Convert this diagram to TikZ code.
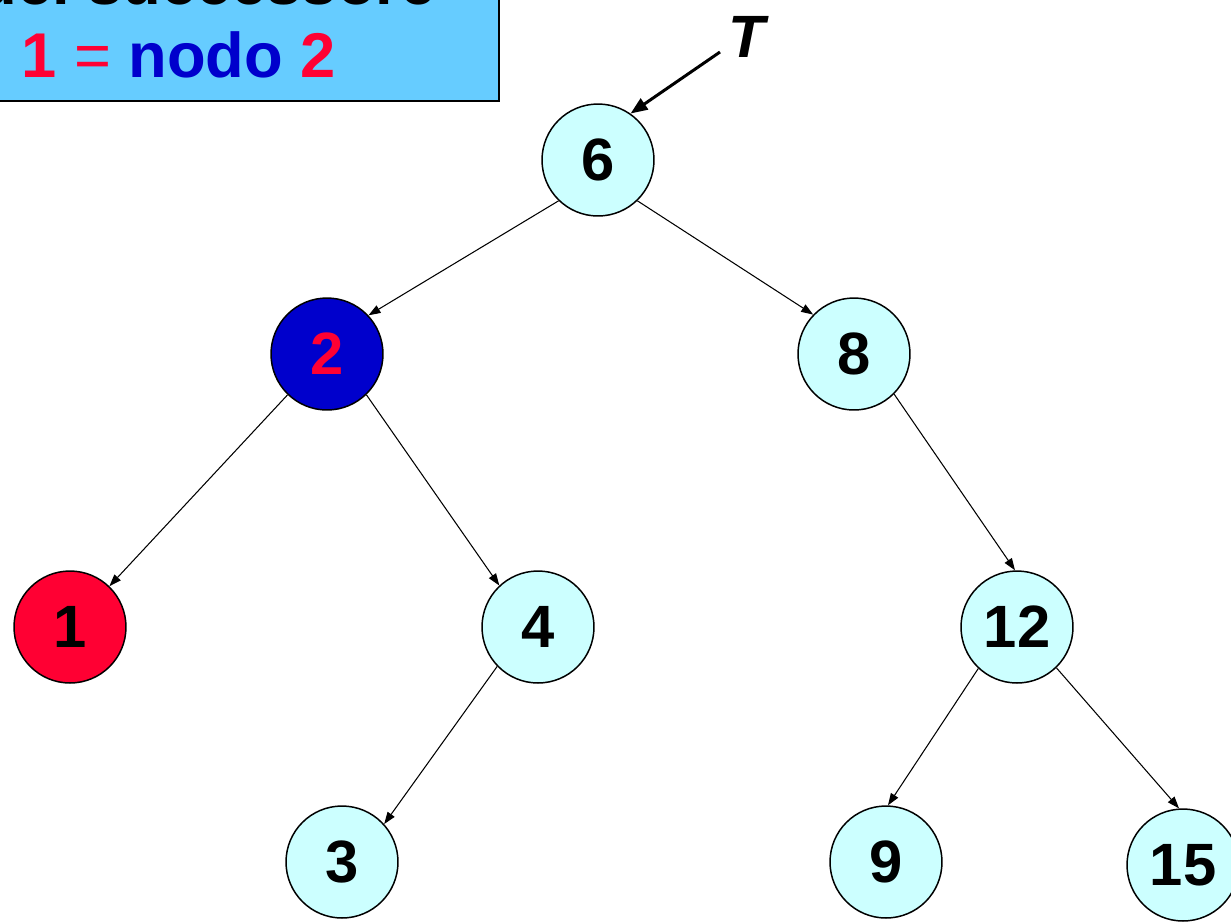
\documentclass[tikz,border=0pt]{standalone}
\usepackage{fontspec}
\setmainfont{Liberation Sans}
\usetikzlibrary{arrows.meta}
\definecolor{nodefill}{HTML}{CCFFFF}
\definecolor{boxfill}{HTML}{66CCFF}
\definecolor{myred}{HTML}{FF0033}
\definecolor{myblue}{HTML}{0000CC}
\tikzset{
  tnode/.style={circle, draw=black, line width=0.85pt, fill=nodefill, minimum size=2.24cm, inner sep=0pt, font=\fontsize{34}{34}\selectfont\bfseries},
  edge/.style={line width=0.6pt, -{Triangle[length=0.24cm,width=0.17cm]}},
}
\begin{document}
\begin{tikzpicture}[x=0.02cm,y=-0.02cm]
\useasboundingbox (0,0) rectangle (1231,921);
\clip (0,0) rectangle (1231,921);
% box
\node[draw=black, line width=1.2pt, fill=boxfill, minimum width=11cm, minimum height=3.2cm, anchor=south east, inner sep=0pt] (box) at (500,102) {};
\node[anchor=base east, font=\fontsize{36}{36}\selectfont\bfseries, inner sep=0pt] (top) at (436,4) {del successore};
\node[anchor=base west, font=\fontsize{36}{36}\selectfont\bfseries, inner sep=0pt] (lbl) at (21,77) {\textcolor{myred}{1 {\mdseries =}} \textcolor{myblue}{nodo} \textcolor{myred}{2}};
% nodes
\node[tnode] (n6) at (598,160) {6};
\node[tnode, fill=myblue, text=myred] (n2) at (327,354) {2};
\node[tnode] (n8) at (854,354) {8};
\node[tnode, fill=myred] (n1) at (70,627) {1};
\node[tnode] (n4) at (538,627) {4};
\node[tnode] (n12) at (1017,627) {12};
\node[tnode] (n3) at (342,862) {3};
\node[tnode] (n9) at (886,862) {9};
\node[tnode] (n15) at (1183,865) {15};
% T
\node[font=\fontsize{34}{34}\selectfont\bfseries\itshape, inner sep=0pt] (T) at (747,37) {T};
\coordinate (Tstart) at (720,52);
\draw[line width=1.7pt, -{Triangle[length=0.34cm,width=0.26cm]}] (Tstart) -- (n6.55);
% edges
\draw[edge] (n6.226) -- (n2.43);
\draw[edge] (n6.314) -- (n8.136);
\draw[edge] (n2.226) -- (n1.46);
\draw[edge] (n2.314) -- (n4.133);
\draw[edge] (n8.315) -- (n12.92);
\draw[edge] (n4.224) -- (n3.42);
\draw[edge] (n12.227) -- (n9.88);
\draw[edge] (n12.314) -- (n15.94);
\end{tikzpicture}
\end{document}
